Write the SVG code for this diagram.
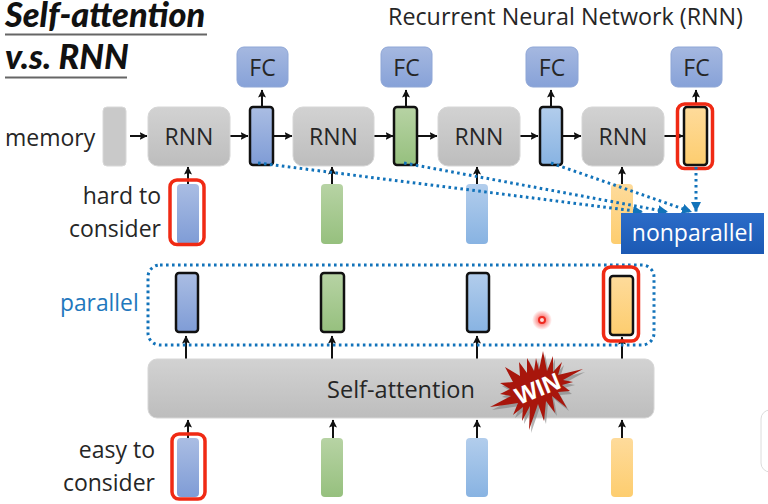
<svg xmlns="http://www.w3.org/2000/svg" width="768" height="504" viewBox="0 0 768 504">
  <style>
    text { font-family: "Open Sans", "Liberation Sans", sans-serif; fill: #262626; }
    .label { font-size: 23px; }
    .title { font-family: "Lato", "Liberation Sans", sans-serif; font-size: 34.300px; font-weight: 900; font-style: italic; fill: #111; }
    .rule { fill: none; stroke: #666; stroke-width: 2; }
    .box { fill: url(#gray); stroke: #d6d6d6; stroke-width: 1; }
    .fc { fill: url(#fcBlue); stroke: #8ea6d6; stroke-width: 1; }
    .b { fill: url(#blue1); }
    .g { fill: url(#green); }
    .l { fill: url(#blue2); }
    .o { fill: url(#orange); }
    .soft { stroke: none; }
    .out { stroke: #111; stroke-width: 2.500; }
    .red { fill: none; stroke: #f02a14; stroke-width: 3.500; }
    .wire { fill: none; stroke: #111; stroke-width: 2; marker-end: url(#arrow); }
    .dots { fill: none; stroke: #1273ba; stroke-width: 3; stroke-dasharray: 2.600 3.400; }
    .dotarrow { marker-end: url(#blueArrow); }
  </style>
  <defs>
    <linearGradient id="gray" x1="0" y1="0" x2="0" y2="1"><stop offset="0" stop-color="#d2d2d2"/><stop offset="1" stop-color="#bdbdbd"/></linearGradient>
    <linearGradient id="fcBlue" x1="0" y1="0" x2="0" y2="1"><stop offset="0" stop-color="#a5b8e0"/><stop offset="1" stop-color="#87a2d8"/></linearGradient>
    <linearGradient id="blue1" x1="0" y1="0" x2="0" y2="1"><stop offset="0" stop-color="#aabde3"/><stop offset="1" stop-color="#7f9cd6"/></linearGradient>
    <linearGradient id="green" x1="0" y1="0" x2="0" y2="1"><stop offset="0" stop-color="#b7d3a4"/><stop offset="1" stop-color="#96c07e"/></linearGradient>
    <linearGradient id="blue2" x1="0" y1="0" x2="0" y2="1"><stop offset="0" stop-color="#b2cdec"/><stop offset="1" stop-color="#88b3e2"/></linearGradient>
    <linearGradient id="orange" x1="0" y1="0" x2="0" y2="1"><stop offset="0" stop-color="#fedb9b"/><stop offset="1" stop-color="#fdcd6f"/></linearGradient>
    <linearGradient id="nonpar" x1="0" y1="0" x2="0" y2="1"><stop offset="0" stop-color="#2c6cc8"/><stop offset="1" stop-color="#1b59b4"/></linearGradient>
    <radialGradient id="glow"><stop offset="0.25" stop-color="#f8504a" stop-opacity="0.8"/><stop offset="1" stop-color="#f8504a" stop-opacity="0"/></radialGradient>
    <marker id="arrow" markerWidth="9" markerHeight="9" refX="7.500" refY="4" orient="auto" markerUnits="userSpaceOnUse"><path d="M0 0L8 4L0 8L1.500 4Z" fill="#111"/></marker>
    <marker id="blueArrow" markerWidth="12" markerHeight="10" refX="10" refY="5" orient="auto" markerUnits="userSpaceOnUse"><path d="M0 0L10 5L0 10Z" fill="#1273ba"/></marker>
    <path id="burst" d="M543 351L547 371L553 356L553 372L562 362L558 375L583 369L563 380L573 382L562 385L570 391L558 392L567 408L552 396L555 413L546 401L544 421L538 404L529 430L530 406L522 421L523 407L513 415L518 403L490 407L511 396L500 394L510 389L500 383L513 382L505 367L520 376L519 362L527 373L527 358L534 371L536 358L539 370Z"/>
  </defs>

  <g id="title">
    <text class="title" x="5" y="27">Self-attention</text>
    <path class="rule" d="M5 34.500H207"/>
    <text class="title" x="5" y="69">v.s. RNN</text>
    <path class="rule" d="M5 77.500H127"/>
  </g>
  <text id="caption" class="label" x="388" y="25" style="font-size:23.300px">Recurrent Neural Network (RNN)</text>

  <g id="input-row-top">
    <rect class="g soft" x="321" y="184" width="22" height="60" rx="4"/>
    <rect class="l soft" x="466" y="184" width="22" height="60" rx="4"/>
    <rect class="o soft" x="611" y="184" width="22" height="60" rx="4"/>
  </g>

  <g id="connectors">
    <path class="wire" d="M130 136H147"/>
    <path class="wire" d="M230 136H248"/>
    <path class="wire" d="M273 136H292"/>
    <path class="wire" d="M374 136H393"/>
    <path class="wire" d="M418 136H437"/>
    <path class="wire" d="M520 136H538"/>
    <path class="wire" d="M563 136H581"/>
    <path class="wire" d="M664 136H683"/>
    <path class="wire" d="M262 107V90"/>
    <path class="wire" d="M406 107V90"/>
    <path class="wire" d="M551 107V90"/>
    <path class="wire" d="M696 104V90"/>
    <path class="wire" d="M188 184V167"/>
    <path class="wire" d="M332 184V167"/>
    <path class="wire" d="M477 184V167"/>
    <path class="wire" d="M622 184V167"/>
    <path class="wire" d="M186 359V336"/>
    <path class="wire" d="M332 359V336"/>
    <path class="wire" d="M477 359V336"/>
    <path class="wire" d="M622 359V337"/>
    <path class="wire" d="M188 438V420"/>
    <path class="wire" d="M333 438V420"/>
    <path class="wire" d="M477 438V420"/>
    <path class="wire" d="M622 438V420"/>
  </g>

  <g id="memory">
    <text class="label" x="5" y="146">memory</text>
    <rect x="103" y="107" width="23" height="59" rx="4" fill="#c9c9c9" stroke="#d8d8d8"/>
  </g>
  <g id="rnn-1"><rect class="box" x="148" y="107" width="82" height="59" rx="10"/><text class="label" x="189" y="145" text-anchor="middle">RNN</text></g>
  <g id="rnn-2"><rect class="box" x="293" y="107" width="81" height="59" rx="10"/><text class="label" x="333.500" y="145" text-anchor="middle">RNN</text></g>
  <g id="rnn-3"><rect class="box" x="438" y="107" width="82" height="59" rx="10"/><text class="label" x="479" y="145" text-anchor="middle">RNN</text></g>
  <g id="rnn-4"><rect class="box" x="582" y="107" width="82" height="59" rx="10"/><text class="label" x="623" y="145" text-anchor="middle">RNN</text></g>

  <g id="fc-1"><rect class="fc" x="237" y="47" width="51" height="40" rx="7"/><text class="label" x="262.500" y="76" text-anchor="middle">FC</text></g>
  <g id="fc-2"><rect class="fc" x="381" y="47" width="51" height="40" rx="7"/><text class="label" x="406.500" y="76" text-anchor="middle">FC</text></g>
  <g id="fc-3"><rect class="fc" x="526" y="47" width="52" height="40" rx="7"/><text class="label" x="552" y="76" text-anchor="middle">FC</text></g>
  <g id="fc-4"><rect class="fc" x="671" y="47" width="51" height="40" rx="7"/><text class="label" x="696.500" y="76" text-anchor="middle">FC</text></g>

  <g id="rnn-out-1"><rect class="b out" x="250" y="107" width="23" height="58" rx="3"/></g>
  <g id="rnn-out-2"><rect class="g out" x="394" y="107" width="23" height="58" rx="3"/></g>
  <g id="rnn-out-3"><rect class="l out" x="540" y="107" width="22" height="58" rx="3"/></g>
  <g id="rnn-out-4"><rect class="o out" x="684" y="107" width="23" height="58" rx="3"/><rect class="red" x="677.500" y="104" width="35" height="64.500" rx="7"/></g>

  <g id="hard-to-consider">
    <text class="label" x="161" y="204" text-anchor="end">hard to</text>
    <text class="label" x="161" y="237" text-anchor="end">consider</text>
    <rect class="b soft" x="177" y="184" width="22" height="60" rx="4"/>
    <rect class="red" x="170" y="180" width="34" height="64.500" rx="7"/>
  </g>

  <g id="nonparallel-links">
    <path class="dots dotarrow" d="M258 163L643 212"/>
    <path class="dots dotarrow" d="M404 163L668 212"/>
    <path class="dots dotarrow" d="M551 163L692 212"/>
    <path class="dots dotarrow" d="M696 167V212"/>
  </g>

  <g id="nonparallel">
    <rect x="621" y="213" width="143" height="41" fill="url(#nonpar)"/>
    <text x="692.500" y="241" text-anchor="middle" style="font-size:23px;fill:#fff">nonparallel</text>
  </g>

  <g id="parallel-group">
    <text x="60" y="311" style="font-size:22.800px;fill:#1f78bd">parallel</text>
    <rect class="dots" x="148" y="265" width="506" height="80" rx="12"/>
  </g>
  <g id="par-out-1"><rect class="b out" x="176" y="273" width="22" height="59" rx="3"/></g>
  <g id="par-out-2"><rect class="g out" x="321" y="273" width="23" height="59" rx="3"/></g>
  <g id="par-out-3"><rect class="l out" x="467" y="273" width="22" height="59" rx="3"/></g>
  <g id="par-out-4"><rect class="o out" x="610" y="276" width="23" height="59" rx="3"/><rect class="red" x="603.500" y="267" width="35" height="74" rx="7"/></g>

  <g id="self-attention">
    <rect class="box" x="148" y="359" width="506" height="59" rx="9"/>
    <text class="label" x="401" y="398" text-anchor="middle" style="font-size:23.500px">Self-attention</text>
  </g>

  <g id="win-badge">
    <use href="#burst" transform="translate(2 3)" fill="#777" opacity="0.55"/>
    <use href="#burst" fill="#a8160c"/>
    <text x="0" y="0" transform="translate(519 405) rotate(-22)" style="font-family:'Liberation Sans',sans-serif;font-size:24px;font-weight:700;fill:#fff">WIN</text>
  </g>

  <g id="easy-to-consider">
    <text class="label" x="155" y="458" text-anchor="end">easy to</text>
    <text class="label" x="155" y="491" text-anchor="end">consider</text>
    <rect class="b soft" x="177" y="438" width="22" height="59" rx="4"/>
    <rect class="red" x="172" y="434" width="33" height="65" rx="7"/>
  </g>
  <g id="input-row-bottom">
    <rect class="g soft" x="321" y="438" width="22" height="59" rx="4"/>
    <rect class="l soft" x="466" y="438" width="22" height="59" rx="4"/>
    <rect class="o soft" x="611" y="438" width="22" height="59" rx="4"/>
  </g>

  <g id="pointer">
    <circle cx="542" cy="320" r="10" fill="url(#glow)"/>
    <circle cx="542" cy="320" r="3" fill="#fbdcd8" stroke="#ee2a20" stroke-width="2"/>
  </g>
  <rect id="panel-edge" x="761" y="410" width="30" height="62" rx="9" fill="#fff" stroke="#dcdcdc"/>
</svg>
